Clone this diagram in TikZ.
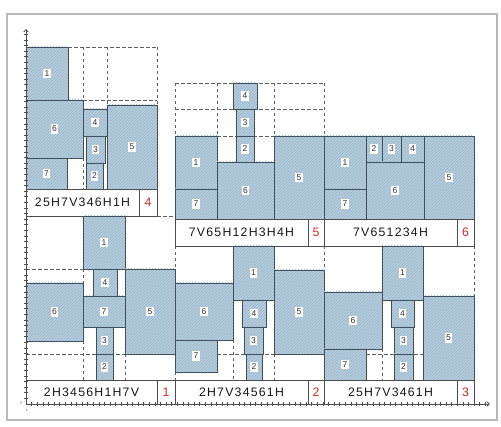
\documentclass[tikz,border=0pt]{standalone}
\usepackage{fontspec}
\setsansfont{Liberation Sans}
\newfontfamily\codefont[LetterSpace=10]{Liberation Sans}
\usetikzlibrary{arrows.meta,patterns}

\definecolor{blkfill}{RGB}{184,207,222}
\definecolor{blkhatch}{RGB}{150,179,199}
\definecolor{blkedge}{RGB}{62,80,96}
\definecolor{dashgray}{RGB}{95,95,95}
\definecolor{tagred}{RGB}{210,40,40}
\definecolor{framegray}{RGB}{185,185,185}

\tikzset{
  blk/.style={draw=blkedge, line width=0.8pt, preaction={fill=blkfill},
    pattern=north east lines, pattern color=blkhatch},
  num/.style={fill=white, inner xsep=1.5pt, inner ysep=1.8pt,
    font=\sffamily\fontsize{8.5}{8.5}\selectfont, text=black!80},
  grid/.style={draw=dashgray, line width=0.75pt, dash pattern=on 3.5pt off 2.5pt},
  lbox/.style={draw=black!70, line width=0.7pt, fill=white},
  code/.style={font=\codefont\fontsize{12.3}{13}\selectfont, text=black!90},
  tag/.style={font=\sffamily\fontsize{12.3}{13}\selectfont, text=tagred},
  axis/.style={draw=black!70, line width=0.8pt},
  tick/.style={draw=black!70, line width=0.6pt}
}

% 矩形块及其编号
\newcommand{\blok}[6]{%
  \draw[blk] (#2,#3) rectangle (#4,#5);
  \node[num] (#1) at ({(#2+#4)/2},{(#3+#5)/2}) {#6};}

% 编码标签框
\newcommand{\codebox}[8]{%
  \draw[lbox] (#2,#3) rectangle (#5,#6);
  \draw[lbox] (#4,#3) -- (#4,#6);
  \node[code] (#1c) at ({(#2+#4)/2},{(#3+#6)/2}) {#7};
  \node[tag] (#1t) at ({(#4+#5)/2},{(#3+#6)/2}) {#8};}

\begin{document}
\begin{tikzpicture}[x=1pt, y=-1pt]
  \useasboundingbox (0,0) rectangle (501,427);
  % 外框
  \draw[framegray, line width=1.2pt] (7,14) rectangle (497,420);

  % 虚线网格
  \draw[grid] (68,47) -- (157,47) (83,47) -- (83,100) (107,47) -- (107,105)
    (157,47) -- (157,105) (83,100) -- (157,100) (83,158) -- (83,189);
  \draw[grid] (175,83) -- (324,83) (175,109) -- (324,109) (175,136) -- (324,136)
    (175,83) -- (175,136) (217,83) -- (217,162) (274,83) -- (274,136)
    (324,83) -- (324,136);
  \draw[grid] (157,216) -- (175,216) (26,269) -- (83,269) (83,269) -- (83,296)
    (83,341) -- (83,380) (125,354) -- (125,380) (26,354) -- (175,354);
  \draw[grid] (175,246) -- (175,283) (175,372) -- (175,380) (233,340) -- (233,380)
    (274,354) -- (274,380) (324,246) -- (324,270) (175,354) -- (324,354);
  \draw[grid] (474,246) -- (474,296) (366,354) -- (423,354) (382,349) -- (382,380);

  % [4] 25H7V346H1H
  \blok{a1}{26}{47}{68}{100}{1}
  \blok{a6}{26}{100}{83}{158}{6}
  \blok{a7}{26}{158}{67}{189}{7}
  \blok{a4}{83}{109}{107}{136}{4}
  \blok{a3}{86}{136}{105}{163}{3}
  \blok{a2}{86}{163}{103}{189}{2}
  \blok{a5}{107}{105}{157}{189}{5}
  \codebox{a}{26}{189}{139}{157}{216}{25H7V346H1H}{4}

  % [5] 7V65H12H3H4H
  \blok{b4}{233}{83}{257}{109}{4}
  \blok{b3}{236}{109}{254}{136}{3}
  \blok{b2}{236}{136}{254}{162}{2}
  \blok{b1}{175}{136}{217}{189}{1}
  \blok{b7}{175}{189}{217}{219}{7}
  \blok{b6}{217}{162}{274}{219}{6}
  \blok{b5}{274}{136}{324}{219}{5}
  \codebox{b}{175}{219}{308}{324}{246}{7V65H12H3H4H}{5}

  % [6] 7V651234H
  \blok{c1}{324}{136}{366}{189}{1}
  \blok{c7}{324}{189}{366}{219}{7}
  \blok{c2}{366}{136}{382}{162}{2}
  \blok{c3}{382}{136}{401}{162}{3}
  \blok{c4}{401}{136}{424}{162}{4}
  \blok{c6}{366}{162}{424}{219}{6}
  \blok{c5}{424}{136}{474}{219}{5}
  \codebox{c}{324}{219}{457}{474}{246}{7V651234H}{6}

  % [1] 2H3456H1H7V
  \blok{d1}{83}{216}{125}{269}{1}
  \blok{d4}{93}{269}{117}{296}{4}
  \blok{d7}{83}{296}{125}{327}{7}
  \blok{d6}{26}{283}{83}{341}{6}
  \blok{d3}{96}{327}{113}{354}{3}
  \blok{d2}{96}{354}{113}{380}{2}
  \blok{d5}{125}{269}{175}{354}{5}
  \codebox{d}{26}{380}{157}{175}{404}{2H3456H1H7V}{1}

  % [2] 2H7V34561H
  \blok{e1}{233}{246}{274}{300}{1}
  \blok{e6}{175}{283}{233}{340}{6}
  \blok{e7}{175}{340}{217}{372}{7}
  \blok{e4}{242}{300}{266}{327}{4}
  \blok{e3}{244}{327}{263}{354}{3}
  \blok{e2}{246}{354}{262}{380}{2}
  \blok{e5}{274}{270}{324}{354}{5}
  \codebox{e}{175}{380}{308}{324}{404}{2H7V34561H}{2}

  % [3] 25H7V3461H
  \blok{f6}{324}{292}{382}{349}{6}
  \blok{f7}{324}{349}{366}{380}{7}
  \blok{f1}{382}{246}{423}{300}{1}
  \blok{f4}{391}{300}{414}{327}{4}
  \blok{f3}{394}{327}{413}{354}{3}
  \blok{f2}{394}{354}{413}{380}{2}
  \blok{f5}{423}{296}{474}{380}{5}
  \codebox{f}{324}{380}{457}{474}{404}{25H7V3461H}{3}

  % 坐标轴
  \coordinate (O) at (26,404);
  \coordinate (Xend) at (490,404);
  \coordinate (Yend) at (26,29);
  \draw[axis, -{Straight Barb[length=2.5pt,width=4.5pt]}] (O) -- (Xend);
  \draw[axis, -{Straight Barb[length=2.5pt,width=4.5pt]}] (O) -- (Yend);
  \foreach \i in {1,...,82}
    \draw[tick] ({26+5.6*\i},402) -- ({26+5.6*\i},406);
  \foreach \i in {1,...,66}
    \draw[tick] (24,{404-5.6*\i}) -- (28,{404-5.6*\i});
  \node[font=\sffamily\fontsize{3}{3}\selectfont, inner sep=0pt] (ylab) at (21,403) {y};
  \node[font=\sffamily\fontsize{3}{3}\selectfont, inner sep=0pt] (xlab) at (27,411) {x};
\end{tikzpicture}
\end{document}
